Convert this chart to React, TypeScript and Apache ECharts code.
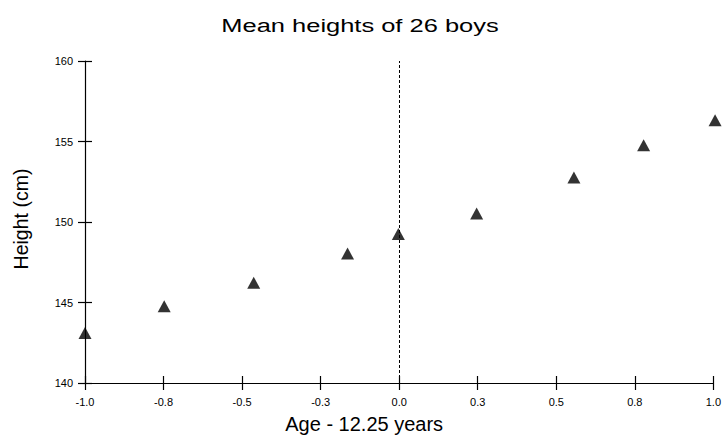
import React, { useEffect, useRef } from "react";
import * as echarts from "echarts";

const ages: number[] = [-1.0, -0.7479, -0.463, -0.1643, -0.0027, 0.2466, 0.5562, 0.7781, 1.0055];
const meanHeights: number[] = [143.1, 144.77, 146.23, 148.04, 149.25, 150.53, 152.77, 154.77, 156.32];
const xTicks = { min: -1, max: 1, interval: 0.25 };
const yTicks = { min: 140, max: 160, interval: 5 };
const titleText = "Mean heights of 26 boys";
const xName = "Age - 12.25 years";
const yName = "Height (cm)";

const FONT = "'Liberation Sans', Arial, sans-serif";
const NARROW = "'Liberation Sans Narrow', 'Liberation Sans', Arial, sans-serif";

export default function App() {
  const ref = useRef<HTMLDivElement>(null);
  useEffect(() => {
    if (!ref.current) return;
    const chart = echarts.init(ref.current, null, { renderer: "svg" });
    const baseX = {
      type: "value" as const,
      min: xTicks.min,
      max: xTicks.max,
      interval: xTicks.interval,
      splitLine: { show: false },
    };
    const baseY = {
      type: "value" as const,
      min: yTicks.min,
      max: yTicks.max,
      interval: yTicks.interval,
      splitLine: { show: false },
    };
    const tickStyle = { color: "#000", width: 1.2 };
    chart.setOption({
      animation: false,
      backgroundColor: "#ffffff",
      graphic: [
        {
          type: "text",
          x: 360,
          y: 26,
          scaleX: 1.34,
          style: {
            text: titleText,
            font: `19px ${FONT}`,
            fill: "#000",
            textAlign: "center",
            textVerticalAlign: "middle",
          },
        },
      ],
      grid: { left: 85, right: 8, top: 61, bottom: 57, containLabel: false },
      xAxis: [
        {
          ...baseX,
          name: xName,
          nameLocation: "middle",
          nameGap: 31,
          nameTextStyle: { fontFamily: FONT, fontSize: 20, color: "#000", padding: [0, 70, 0, 0] },
          axisLine: { show: true, onZero: false, lineStyle: tickStyle },
          axisTick: { show: true, inside: false, length: 7, lineStyle: tickStyle },
          axisLabel: {
            margin: 13,
            fontFamily: NARROW,
            fontSize: 11,
            color: "#000",
            formatter: (v: number) => v.toFixed(1),
          },
        },
        {
          ...baseX,
          position: "bottom",
          axisLine: { show: true, onZero: false, lineStyle: { color: "#000", opacity: 0 } },
          axisTick: { show: true, inside: true, length: 7, lineStyle: tickStyle },
          axisLabel: { show: false },
        },
      ],
      yAxis: [
        {
          ...baseY,
          name: yName,
          nameLocation: "middle",
          nameGap: 54,
          nameRotate: 90,
          nameTextStyle: { fontFamily: FONT, fontSize: 19.5, color: "#000", padding: [0, 0, 0, 6] },
          axisLine: { show: true, onZero: false, lineStyle: tickStyle },
          axisTick: { show: true, inside: false, length: 7, lineStyle: tickStyle },
          axisLabel: { margin: 12, fontFamily: NARROW, fontSize: 11, color: "#000" },
        },
        {
          ...baseY,
          position: "left",
          axisLine: { show: true, onZero: false, lineStyle: { color: "#000", opacity: 0 } },
          axisTick: { show: true, inside: true, length: 7, lineStyle: tickStyle },
          axisLabel: { show: false },
        },
      ],
      series: [
        {
          type: "scatter",
          xAxisIndex: 0,
          yAxisIndex: 0,
          clip: false,
          symbol: "triangle",
          symbolSize: [13, 12],
          itemStyle: { color: "#000" },
          data: ages.map((a, i) => [a, meanHeights[i]]),
          markLine: {
            silent: true,
            symbol: ["none", "none"],
            label: { show: false },
            lineStyle: { color: "#000", type: [3, 2], width: 1 },
            data: [{ xAxis: 0 }],
          },
        },
      ],
    });
    return () => chart.dispose();
  }, []);
  return (
    <div
      ref={ref}
      style={{ position: "absolute", left: 0, top: 0, width: 724, height: 440 }}
    />
  );
}
